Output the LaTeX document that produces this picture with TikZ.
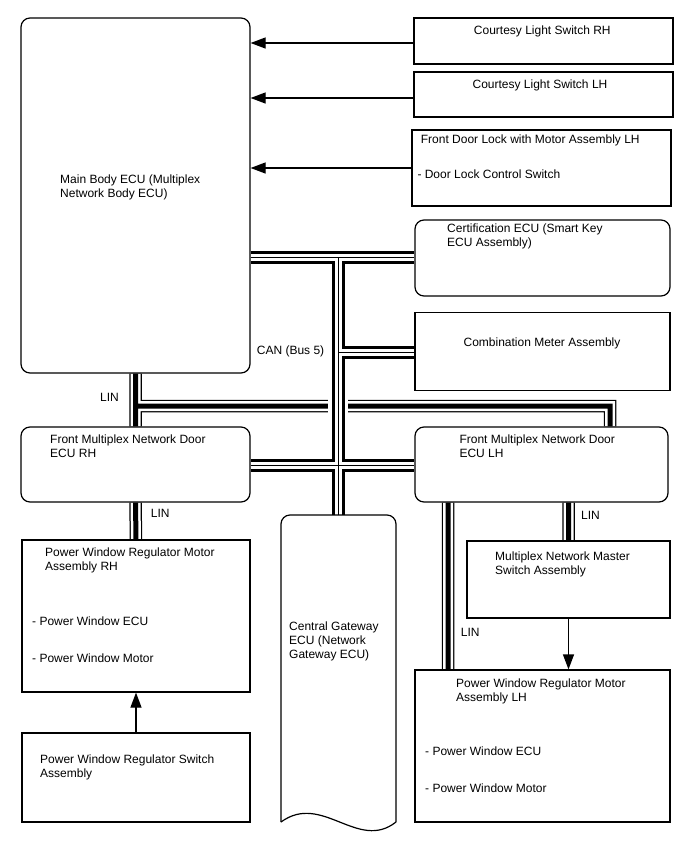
\documentclass[tikz,border=0pt]{standalone}
\usepackage{fontspec}
\setmainfont{Liberation Sans}
\usetikzlibrary{arrows.meta,backgrounds}
\tikzset{>={Triangle[length=15pt,width=11pt]},
  sqbox/.style={draw,line width=1.2pt,inner sep=0pt},
  rdbox/.style={sqbox,rounded corners=9pt},
  gwline/.style={line width=1.2pt},
  txt/.style={inner sep=0pt,align=left,font=\fontsize{12}{13.8}\selectfont},
  feed/.style={->,line width=1.2pt},
  canbus/.style={line width=1pt,
    preaction={draw=white,line width=20pt},
    preaction={draw,line width=13pt},
    preaction={draw=white,line width=7pt}},
  linbus/.style={line width=5pt,
    preaction={draw,line width=12.5pt},
    preaction={draw=white,line width=10pt}}}
\begin{document}
\begin{tikzpicture}[x=1pt,y=-1pt]
\useasboundingbox (0,0) rectangle (688,852);
% units
\node[rdbox,minimum width=229,minimum height=355] (main) at (135.5,195.5) {};
\node[sqbox,minimum width=259,minimum height=46] (clrh) at (543.5,41) {};
\node[sqbox,minimum width=259,minimum height=45] (cllh) at (543.5,94.5) {};
\node[sqbox,minimum width=259,minimum height=76] (dlock) at (541.5,168) {};
\node[rdbox,minimum width=255,minimum height=76] (cert) at (542.5,258) {};
\node[sqbox,minimum width=255,minimum height=78] (meter) at (542.5,351.5) {};
\node[rdbox,minimum width=229,minimum height=75] (drh) at (135.5,464.5) {};
\node[rdbox,minimum width=253,minimum height=75] (dlh) at (541.5,464.5) {};
\node[sqbox,minimum width=228,minimum height=152] (pwrh) at (136,616) {};
\node[sqbox,minimum width=228,minimum height=89] (swrh) at (136,777.5) {};
\node[sqbox,minimum width=203,minimum height=77] (msw) at (568.5,579.5) {};
\node[sqbox,minimum width=255,minimum height=152] (pwlh) at (542.5,746) {};
% gateway sheet
\draw[gwline,rounded corners=9pt] (281,822) -- (281,515) -- (396,515) -- (396,822);
\draw[gwline] (281,822) .. controls (322,792) and (358,852) .. (396,822);
\coordinate (gwtop) at (338,515);
% texts
\node[txt,anchor=west] (t_main) at (60,187) {Main Body ECU (Multiplex\\Network Body ECU)};
\node[txt,anchor=north] (t_clrh) at (542.3,25.3) {Courtesy Light Switch RH};
\node[txt,anchor=north] (t_cllh) at (540,80) {Courtesy Light Switch LH};
\node[txt,anchor=north west] (t_dlock) at (420.7,134.3) {Front Door Lock with Motor Assembly LH};
\node[txt,anchor=north west] (t_dlsw) at (417.3,169.3) {- Door Lock Control Switch};
\node[txt,anchor=north west] (t_cert) at (447,224) {Certification ECU (Smart Key\\ECU Assembly)};
\node[txt,anchor=north] (t_meter) at (542,338) {Combination Meter Assembly};
\node[txt,anchor=north west] (t_can) at (256.7,345.5) {CAN (Bus 5)};
\node[txt,anchor=north west] (t_drh) at (50,434.5) {Front Multiplex Network Door\\ECU RH};
\node[txt,anchor=north west] (t_dlh) at (459.3,434.5) {Front Multiplex Network Door\\ECU LH};
\node[txt,anchor=north west] (t_pwrh) at (45,548) {Power Window Regulator Motor\\Assembly RH};
\node[txt,anchor=north west] (t_pwrh1) at (32,617) {- Power Window ECU};
\node[txt,anchor=north west] (t_pwrh2) at (32,654) {- Power Window Motor};
\node[txt,anchor=north west] (t_swrh) at (40,755) {Power Window Regulator Switch\\Assembly};
\node[txt,anchor=north west] (gw) at (289,622) {Central Gateway\\ECU (Network\\Gateway ECU)};
\node[txt,anchor=north west] (t_msw) at (495,551.7) {Multiplex Network Master\\Switch Assembly};
\node[txt,anchor=north west] (t_pwlh) at (456,679) {Power Window Regulator Motor\\Assembly LH};
\node[txt,anchor=north west] (t_pwlh1) at (425,747) {- Power Window ECU};
\node[txt,anchor=north west] (t_pwlh2) at (425,784) {- Power Window Motor};
\node[txt,anchor=north west] (t_lin1) at (100,393.3) {LIN};
\node[txt,anchor=north west] (t_lin2) at (150.7,509.3) {LIN};
\node[txt,anchor=north west] (t_lin3) at (460.7,627.7) {LIN};
\node[txt,anchor=north west] (t_lin4) at (581,510.7) {LIN};
% inputs
\coordinate (a1) at ([yshift=-2pt]clrh.west);
\coordinate (a2) at ([yshift=-3.5pt]cllh.west);
\draw[feed] (a1) -- (a1 -| main.east);
\draw[feed] (a2) -- (a2 -| main.east);
\draw[feed] (dlock.west) -- (dlock.west -| main.east);
\draw[feed] (msw.south) -- (pwlh.north -| msw.south);
\draw[feed] (swrh.north) -- (pwrh.south);
% buses
\coordinate (ja) at (338,257);
\coordinate (jb) at (338,352);
\coordinate (jc) at (338,465);
\coordinate (la) at (135,406);
\coordinate (lb) at (610,406);
\coordinate (lc) at (448,0);
\begin{scope}[on background layer]
\draw[linbus] (main.south) -- (drh.north)
  (la) -- (lb) -- (lb |- dlh.north)
  (drh.south) -- (pwrh.north)
  (dlh.south -| lc) -- (pwlh.north -| lc)
  (dlh.south -| msw.north) -- (msw.north);
\draw[canbus] (main.east |- ja) -- (cert.west |- ja)
  (ja) -- (gwtop)
  (jb) -- (meter.west |- jb)
  (drh.east |- jc) -- (dlh.west |- jc);
\end{scope}
\end{tikzpicture}
\end{document}
